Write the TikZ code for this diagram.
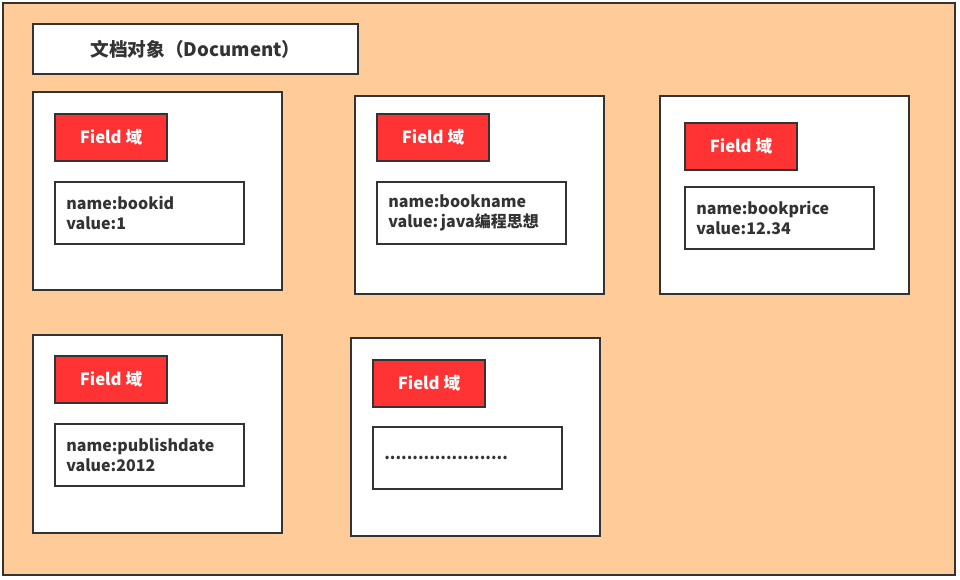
\documentclass[tikz,border=0pt]{standalone}
\usepackage{fontspec}
\setmainfont{Noto Sans CJK SC}
\usetikzlibrary{positioning}
\definecolor{fondoDoc}{HTML}{FFCC99}
\definecolor{rojoCampo}{HTML}{FF3333}
\definecolor{grisBorde}{HTML}{333333}

\begin{document}
\begin{tikzpicture}[
        x=0.75pt, y=-0.75pt,
        doc/.style={draw=grisBorde, fill=fondoDoc, line width=1.5pt},
        titulo/.style={draw=grisBorde, fill=white, line width=1.5pt, anchor=north west,
            minimum width=243.75pt, minimum height=37.5pt, inner sep=0pt,
            font=\bfseries\fontsize{14}{16}\selectfont, text=grisBorde},
        tarjeta/.style={draw=grisBorde, fill=white, line width=1.5pt, anchor=north west,
            minimum width=186.75pt, minimum height=148.5pt, inner sep=0pt},
        campo/.style={draw=grisBorde, fill=rojoCampo, line width=1.5pt, anchor=north west,
            minimum width=84pt, minimum height=35.25pt, inner sep=0pt,
            font=\bfseries\fontsize{12.5}{14}\selectfont, text=white},
        valor/.style={draw=grisBorde, fill=white, line width=1.5pt, anchor=north west,
            minimum width=141.75pt, minimum height=46.5pt, inner xsep=8.5pt, inner ysep=0pt,
            text width=124.75pt, align=left,
            font=\bfseries\fontsize{12}{15.5}\selectfont, text=grisBorde}
    ]
        \useasboundingbox (0,0) rectangle (960,579);
        \fill[white] (0,0) rectangle (960,579);
        \draw[doc] (3,3) rectangle (955,575);

        \node[titulo] (doc) at (32,23) {文档对象（Document）};

        \node[tarjeta] (t1) at (32,91) {};
        \node[campo] (c1) at (54,113) {Field 域};
        \node[valor] (v1) at (54,181) {name:bookid\\value:1};

        \node[tarjeta] (t2) at (354,95) {};
        \node[campo] (c2) at (376,113) {Field 域};
        \node[valor] (v2) at (376,181) {name:bookname\\value:\,java编程思想};

        \node[tarjeta] (t3) at (659,95) {};
        \node[campo] (c3) at (684,122) {Field 域};
        \node[valor] (v3) at (684,186) {name:bookprice\\value:12.34};

        \node[tarjeta] (t4) at (32,334) {};
        \node[campo] (c4) at (54,355) {Field 域};
        \node[valor] (v4) at (54,423) {name:publishdate\\value:2012};

        \node[tarjeta] (t5) at (350,337) {};
        \node[campo] (c5) at (372,359) {Field 域};
        \node[valor] (v5) at (372,426) {......................};
    \end{tikzpicture}
\end{document}
